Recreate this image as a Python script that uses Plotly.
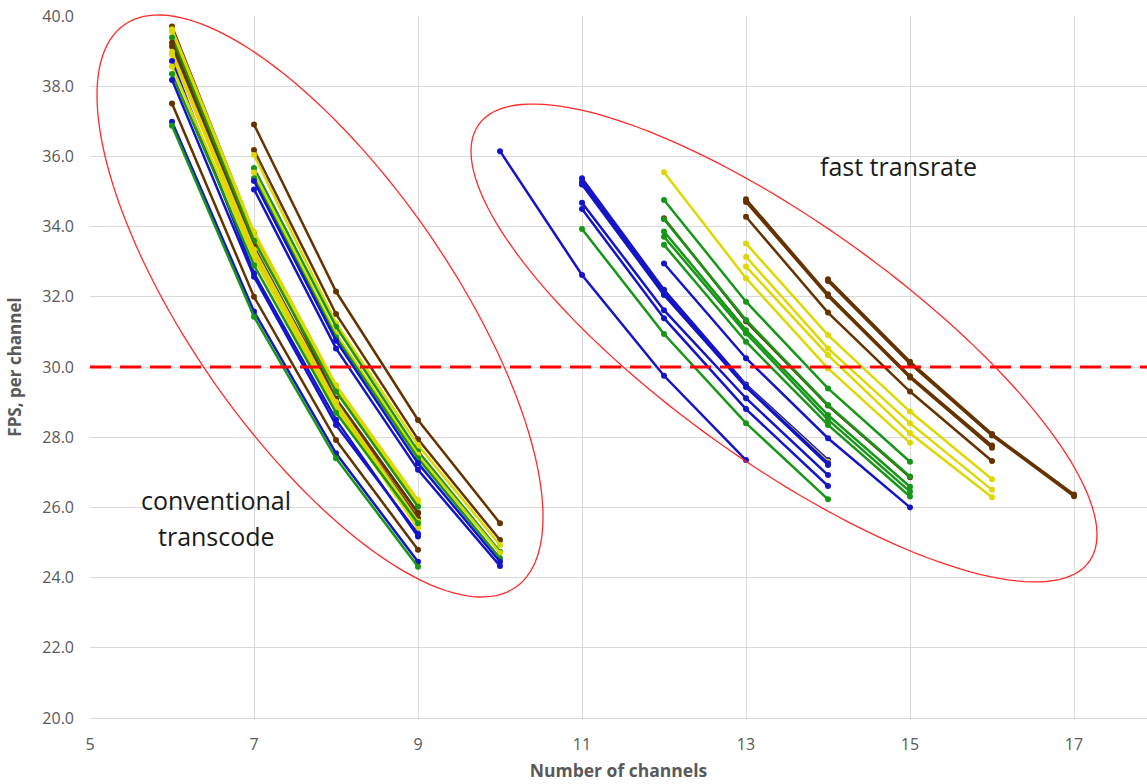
import numpy as np
import plotly.graph_objects as go

# ---------------- data ----------------
# conventional transcode: each series = FPS per channel at 4 consecutive channel counts
conv_start = [6, 6, 6, 6, 6, 6, 6, 6, 6, 6, 6, 6, 6, 6, 6,
              7, 7, 7, 7, 7, 7, 7, 7]
conv_cat = ["brown", "yellow", "yellow", "green", "brown", "brown", "yellow", "yellow",
            "blue", "yellow", "green", "blue", "brown", "blue", "green",
            "brown", "brown", "yellow", "green", "yellow", "green", "blue", "blue"]
conv_fps = [
    [39.70, 33.80, 29.10, 25.85],
    [39.62, 33.85, 29.49, 26.21],
    [39.55, 33.70, 29.40, 26.10],
    [39.39, 33.60, 29.30, 26.02],
    [39.24, 33.43, 29.06, 25.83],
    [39.13, 33.30, 28.95, 25.69],
    [38.98, 33.35, 29.00, 25.60],
    [38.89, 33.20, 28.90, 25.45],
    [38.72, 32.67, 28.50, 25.17],
    [38.56, 33.10, 28.80, 25.40],
    [38.35, 32.90, 28.70, 25.55],
    [38.18, 32.57, 28.35, 25.25],
    [37.51, 32.00, 27.92, 24.79],
    [36.99, 31.58, 27.54, 24.45],
    [36.87, 31.43, 27.40, 24.31],
    [36.91, 32.15, 28.49, 25.55],
    [36.18, 31.51, 27.94, 25.07],
    [36.04, 31.25, 27.78, 24.93],
    [35.67, 31.15, 27.60, 24.74],
    [35.54, 30.95, 27.50, 24.70],
    [35.38, 30.85, 27.40, 24.55],
    [35.30, 30.75, 27.26, 24.45],
    [35.06, 30.53, 27.07, 24.33],
]

# fast transrate
fast_start = [10,
              11, 11, 11, 11, 11, 11, 11,
              12, 12, 12, 12, 12, 12, 12, 12,
              13, 13, 13, 13, 13, 13,
              14, 14]
fast_cat = ["blue",
            "blue", "yellow", "blue", "blue", "blue", "blue", "green",
            "yellow", "green", "brown", "green", "green", "green", "green", "blue",
            "brown", "brown", "brown", "yellow", "yellow", "yellow",
            "brown", "brown"]
fast_fps = [
    [36.15, 32.62, 29.75, 27.35],
    [35.38, 32.20, 29.50, 27.35],
    [35.22, 32.05, 29.45, 27.30],
    [35.28, 32.12, 29.45, 27.26],
    [35.20, 32.05, 29.43, 27.21],
    [34.68, 31.62, 29.11, 26.92],
    [34.50, 31.39, 28.80, 26.61],
    [33.93, 30.94, 28.40, 26.23],
    [35.55, 32.53, 29.96, 27.84],
    [34.76, 31.86, 29.39, 27.30],
    [34.24, 31.30, 28.90, 26.86],
    [34.21, 31.34, 28.92, 26.88],
    [33.86, 31.05, 28.63, 26.59],
    [33.71, 30.96, 28.50, 26.45],
    [33.48, 30.72, 28.35, 26.31],
    [32.95, 30.25, 27.97, 26.00],
    [34.78, 32.07, 29.74, 27.76],
    [34.70, 32.02, 29.70, 27.70],
    [34.28, 31.55, 29.30, 27.32],
    [33.52, 30.91, 28.73, 26.80],
    [33.14, 30.53, 28.40, 26.50],
    [32.86, 30.34, 28.11, 26.29],
    [32.50, 30.15, 28.09, 26.37],
    [32.45, 30.10, 28.05, 26.32],
]

TARGET_FPS = 30.0
y_ticks = [20, 22, 24, 26, 28, 30, 32, 34, 36, 38, 40]
x_ticks = [5, 7, 9, 11, 13, 15, 17]

# ---------------- style ----------------
COLORS = {"brown": "#663300", "yellow": "#DCD800", "green": "#179617", "blue": "#1414C8"}
W, H = 1147, 784
ML, MR, MT, MB = 90, 0, 16, 66
PX_PER_X = 82.0
plot_w = W - ML - MR
plot_h = H - MT - MB
x_range = [5, 5 + plot_w / PX_PER_X]
y_range = [20, 40]
FONT = "Open Sans"

fig = go.Figure()

def add_series(starts, cats, fps):
    for s, c, v in zip(starts, cats, fps):
        xs = list(range(s, s + len(v)))
        fig.add_trace(go.Scatter(
            x=xs, y=v, mode="lines+markers",
            line=dict(color=COLORS[c], width=2.5),
            marker=dict(color=COLORS[c], size=6),
            showlegend=False, hoverinfo="x+y"))

add_series(conv_start, conv_cat, conv_fps)
add_series(fast_start, fast_cat, fast_fps)

# target line
fig.add_shape(type="line", xref="paper", yref="y", x0=0, x1=1, y0=TARGET_FPS, y1=TARGET_FPS,
              line=dict(color="#FF0000", width=3, dash="21px,9px"))

# ellipses (annotation outlines), defined in pixel space: center, semi-axes, angle
def ellipse_path(cx, cy, a, b, theta_deg, n=160):
    th = np.radians(theta_deg)
    t = np.linspace(0, 2 * np.pi, n, endpoint=False)
    px = cx + a * np.cos(t) * np.cos(th) - b * np.sin(t) * np.sin(th)
    py = cy + a * np.cos(t) * np.sin(th) + b * np.sin(t) * np.cos(th)
    xp = (px - ML) / plot_w
    yp = 1 - (py - MT) / plot_h
    pts = [f"{x:.5f},{y:.5f}" for x, y in zip(xp, yp)]
    return "M " + " L ".join(pts) + " Z"

for (cx, cy, a, b, ang) in [(320, 306, 342.6, 130.6, 55.2), (784, 343, 375.4, 119.0, 35.6)]:
    fig.add_shape(type="path", xref="paper", yref="paper",
                  path=ellipse_path(cx, cy, a, b, ang),
                  line=dict(color="#FF2A2A", width=1.3), fillcolor="rgba(0,0,0,0)")

def paper_xy(px, py):
    return (px - ML) / plot_w, 1 - (py - MT) / plot_h

for txt, (px, py) in [("conventional", (216, 500)), ("transcode", (216, 536)),
                      ("fast transrate", (898, 166))]:
    x, y = paper_xy(px, py)
    fig.add_annotation(x=x, y=y, xref="paper", yref="paper", text=txt, showarrow=False,
                       xanchor="center", yanchor="middle",
                       font=dict(family=FONT, size=25, color="#1A1A1A"))

fig.update_layout(
    width=W, height=H,
    margin=dict(l=ML, r=MR, t=MT, b=MB),
    paper_bgcolor="white", plot_bgcolor="white",
    font=dict(family=FONT, color="#595959"),
)
fig.update_xaxes(
    range=x_range, tickvals=x_ticks, ticktext=[str(v) for v in x_ticks],
    showgrid=True, gridcolor="#D9D9D9", gridwidth=1,
    zeroline=False, showline=True, linecolor="#D9D9D9", linewidth=1,
    ticks="", tickfont=dict(family=FONT, size=16, color="#595959"),
    ticklabelstandoff=12,
    title=dict(text="<b>Number of channels</b>", font=dict(family=FONT, size=17.5, color="#595959"),
               standoff=10),
)
fig.update_yaxes(
    range=y_range, tickvals=y_ticks, ticktext=[f"{v:.1f}" for v in y_ticks],
    showgrid=True, gridcolor="#D9D9D9", gridwidth=1,
    zeroline=False, showline=False,
    ticks="", tickfont=dict(family=FONT, size=16, color="#595959"),
    ticklabelstandoff=15,
    title=dict(text="<b>FPS, per channel</b>", font=dict(family=FONT, size=17, color="#595959"),
               standoff=16),
)

fig.write_html("out.html")
